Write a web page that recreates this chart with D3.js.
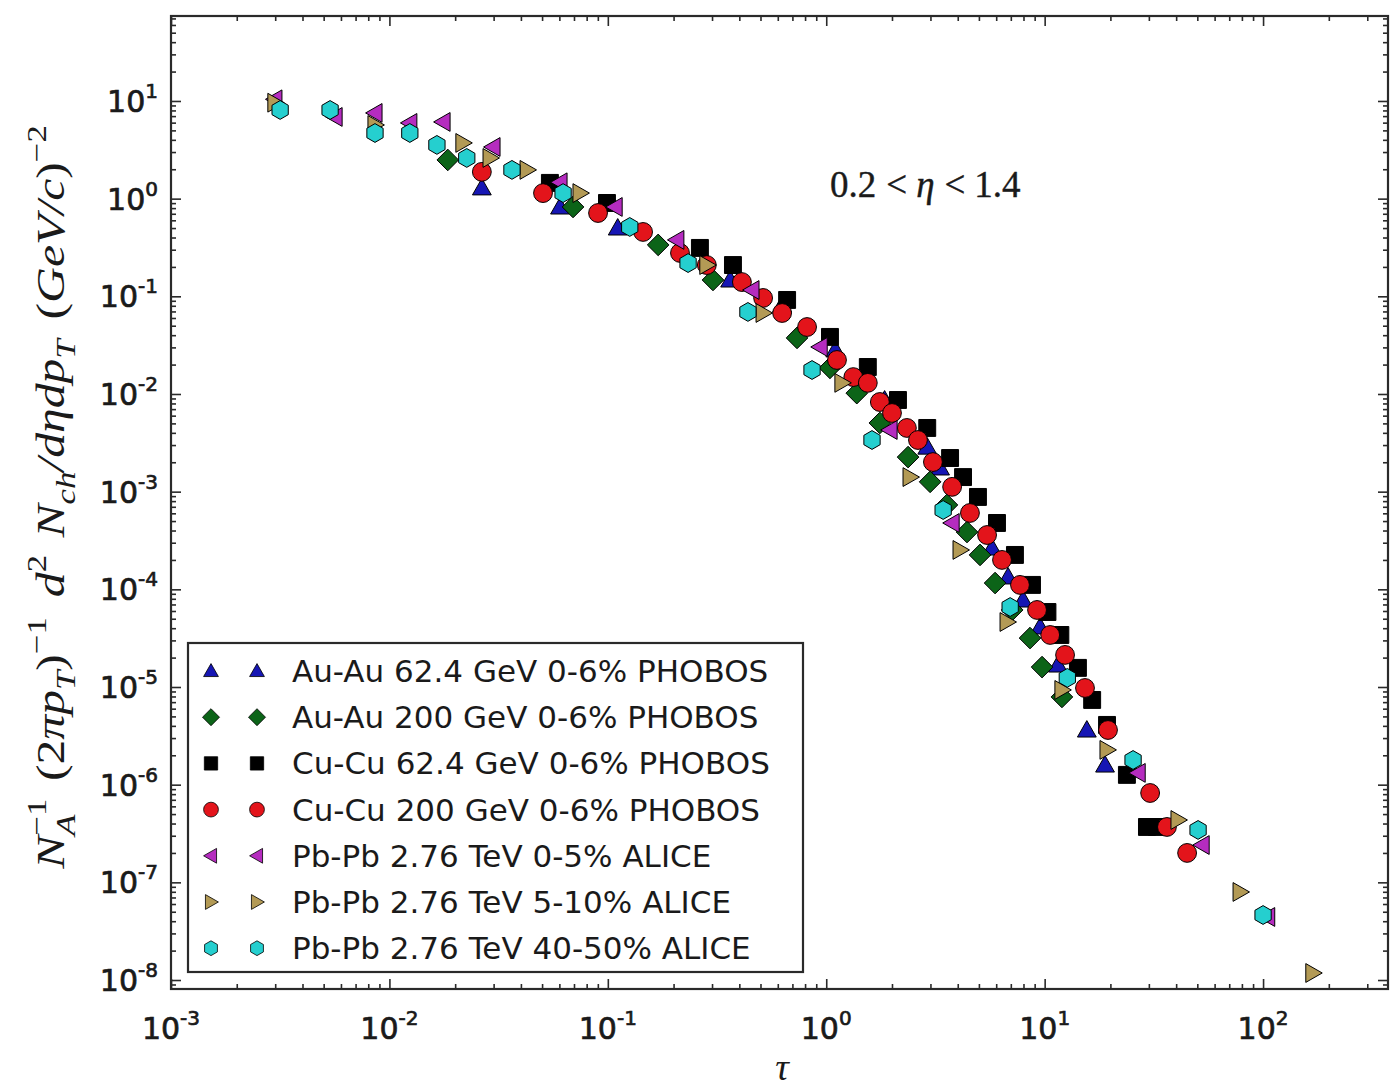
<!DOCTYPE html>
<html>
<head>
<meta charset="utf-8">
<script src="https://cdnjs.cloudflare.com/ajax/libs/d3/7.8.5/d3.min.js"></script>
<style>
  html, body { margin: 0; padding: 0; background: #ffffff; }
  svg { display: block; }
</style>
</head>
<body>
<svg id="chart" width="1391" height="1089"></svg>
<script>
// ---- Data: scaled charged-hadron spectra vs. scaling variable tau ----
const seriesLabels = [
  "Au-Au 62.4 GeV 0-6% PHOBOS",
  "Au-Au 200 GeV 0-6% PHOBOS",
  "Cu-Cu 62.4 GeV 0-6% PHOBOS",
  "Cu-Cu 200 GeV 0-6% PHOBOS",
  "Pb-Pb 2.76 TeV 0-5% ALICE",
  "Pb-Pb 2.76 TeV 5-10% ALICE",
  "Pb-Pb 2.76 TeV 40-50% ALICE"
];

const auAu62Tau   = [0.0265, 0.0604, 0.111, 0.363, 0.628, 1.10, 1.85, 2.90, 3.32, 5.74, 6.80, 7.96, 9.53, 11.5, 15.6, 18.9];
const auAu62Yield = [1.29, 0.822, 0.501, 0.147, 0.0815, 0.0283, 0.00868, 0.00286, 0.00175, 2.65e-4, 1.34e-4, 7.78e-5, 4.12e-5, 1.68e-5, 3.63e-6, 1.59e-6];

const auAu200Tau   = [0.0185, 0.0693, 0.170, 0.303, 0.735, 1.04, 1.38, 1.76, 2.37, 2.99, 3.57, 4.41, 5.06, 5.93, 7.10, 8.57, 9.73, 12.0];
const auAu200Yield = [2.49, 0.822, 0.336, 0.147, 0.0375, 0.0185, 0.0102, 0.00505, 0.00226, 0.00126, 7.31e-4, 3.86e-4, 2.25e-4, 1.16e-4, 6.15e-5, 3.17e-5, 1.60e-5, 7.91e-6];

const cuCu62Tau   = [0.0543, 0.0991, 0.264, 0.374, 0.662, 1.04, 1.55, 2.13, 2.90, 3.69, 4.23, 4.95, 6.05, 7.31, 8.75, 10.3, 11.8, 14.2, 16.5, 19.3, 23.8, 29.4, 32.7];
const cuCu62Yield = [1.45, 0.903, 0.313, 0.209, 0.0918, 0.0384, 0.0189, 0.00868, 0.00449, 0.00221, 0.00141, 8.83e-4, 4.78e-4, 2.25e-4, 1.11e-4, 5.86e-5, 3.41e-5, 1.57e-5, 7.37e-6, 4.09e-6, 1.26e-6, 3.69e-7, 3.69e-7];

const cuCu200Tau   = [0.0265, 0.0505, 0.0902, 0.145, 0.214, 0.284, 0.411, 0.514, 0.628, 0.817, 1.12, 1.33, 1.55, 1.76, 2.00, 2.34, 2.63, 3.08, 3.77, 4.55, 5.45, 6.38, 7.71, 9.23, 10.6, 12.4, 15.3, 19.5, 30.4, 36.3, 44.9];
const cuCu200Yield = [1.88, 1.14, 0.713, 0.456, 0.278, 0.209, 0.140, 0.0962, 0.0675, 0.0485, 0.0223, 0.0149, 0.0130, 0.00828, 0.00639, 0.00449, 0.00338, 0.00201, 0.00112, 6.05e-4, 3.60e-4, 2.00e-4, 1.11e-4, 6.15e-5, 3.41e-5, 2.13e-5, 9.77e-6, 3.63e-6, 8.22e-7, 3.69e-7, 2.00e-7];

const pbPb05Tau   = [0.00299, 0.00564, 0.00859, 0.0124, 0.0176, 0.0298, 0.0604, 0.108, 0.207, 0.457, 0.938, 1.96, 3.77, 26.8, 52.6, 105];
const pbPb05Yield = [10.4, 6.86, 7.54, 5.96, 6.10, 3.38, 1.47, 0.822, 0.378, 0.116, 0.0303, 0.00428, 4.78e-4, 1.32e-6, 2.41e-7, 4.42e-8];

const pbPb510Tau   = [0.00299, 0.00859, 0.0217, 0.0289, 0.0427, 0.0746, 0.284, 0.514, 1.18, 2.42, 4.10, 6.73, 12.0, 19.3, 40.8, 78.5, 169];
const pbPb510Yield = [9.6, 5.68, 3.72, 2.61, 1.97, 1.14, 0.209, 0.0675, 0.0130, 0.00141, 2.53e-4, 4.63e-5, 9.33e-6, 2.27e-6, 4.35e-7, 7.97e-8, 1.18e-8];

const pbPb4050Tau   = [0.00316, 0.00535, 0.00859, 0.0124, 0.0165, 0.0226, 0.0364, 0.0624, 0.126, 0.233, 0.438, 0.861, 1.62, 3.43, 6.95, 12.7, 25.4, 50.4, 100];
const pbPb4050Yield = [8.09, 8.09, 4.70, 4.70, 3.55, 2.61, 1.97, 1.14, 0.513, 0.219, 0.0692, 0.0176, 0.00338, 6.49e-4, 6.59e-5, 1.24e-5, 1.79e-6, 3.44e-7, 4.63e-8];

const xMajorTicks = [1e-3, 1e-2, 1e-1, 1e0, 1e1, 1e2];
const xTickExponents = ["-3", "-2", "-1", "0", "1", "2"];
const yMajorTicks = [1e-8, 1e-7, 1e-6, 1e-5, 1e-4, 1e-3, 1e-2, 1e-1, 1e0, 1e1];
const yTickExponents = ["-8", "-7", "-6", "-5", "-4", "-3", "-2", "-1", "0", "1"];

// ---- Styling ----
const seriesTau   = [auAu62Tau, auAu200Tau, cuCu62Tau, cuCu200Tau, pbPb05Tau, pbPb510Tau, pbPb4050Tau];
const seriesYield = [auAu62Yield, auAu200Yield, cuCu62Yield, cuCu200Yield, pbPb05Yield, pbPb510Yield, pbPb4050Yield];
const seriesColor = ["#1616b4", "#0c6418", "#000000", "#e3141b", "#b52cbf", "#b39a55", "#25cfcf"];
const seriesShape = ["triUp", "diamond", "square", "circle", "triLeft", "triRight", "hexagon"];

const markerPath = {
  triUp:    r => `M0,${-r}L${r},${0.75 * r}L${-r},${0.75 * r}Z`,
  triLeft:  r => `M${-r},0L${0.75 * r},${-r}L${0.75 * r},${r}Z`,
  triRight: r => `M${r},0L${-0.75 * r},${-r}L${-0.75 * r},${r}Z`,
  diamond:  r => `M0,${-r * 1.15}L${r * 1.15},0L0,${r * 1.15}L${-r * 1.15},0Z`,
  square:   r => `M${-r * 0.9},${-r * 0.9}H${r * 0.9}V${r * 0.9}H${-r * 0.9}Z`,
  circle:   r => d3.arc()({innerRadius: 0, outerRadius: r, startAngle: 0, endAngle: 2 * Math.PI}),
  hexagon:  r => {
    const pts = d3.range(6).map(k => {
      const a = Math.PI / 2 + k * Math.PI / 3;
      return [r * Math.cos(a), -r * Math.sin(a)];
    });
    return "M" + pts.map(p => p.join(",")).join("L") + "Z";
  }
};

const svg = d3.select("#chart");
const frame = {left: 171, right: 1388, top: 16, bottom: 989};

const x = d3.scaleLog()
  .domain([1e-3, Math.pow(10, 2.572)])
  .range([frame.left, frame.right]);
const y = d3.scaleLog()
  .domain([Math.pow(10, -8.092), Math.pow(10, 1.870)])
  .range([frame.bottom, frame.top]);

function minorTicks(scale, lo, hi) {
  const [d0, d1] = scale.domain();
  const out = [];
  for (let e = lo; e <= hi; e++) {
    for (let k = 2; k <= 9; k++) {
      const v = k * Math.pow(10, e);
      if (v >= d0 && v <= d1) out.push(v);
    }
  }
  return out;
}
const xMinor = minorTicks(x, -3, 2);
const yMinor = minorTicks(y, -9, 1);

// ---- Axes: inward ticks on all four sides ----
const axisColor = "#2a2a2a";
function drawAxis(axisFn, scale, pos, values, len) {
  const g = svg.append("g")
    .attr("transform", pos)
    .call(axisFn(scale).tickValues(values).tickSize(-len).tickSizeOuter(0).tickFormat(""));
  g.select(".domain").remove();
  g.selectAll(".tick line").attr("stroke", axisColor).attr("stroke-width", 1.6);
}
[[xMajorTicks, 10], [xMinor, 5]].forEach(([vals, len]) => {
  drawAxis(d3.axisBottom, x, `translate(0,${frame.bottom})`, vals, len);
  drawAxis(d3.axisTop, x, `translate(0,${frame.top})`, vals, len);
});
[[yMajorTicks, 10], [yMinor, 5]].forEach(([vals, len]) => {
  drawAxis(d3.axisLeft, y, `translate(${frame.left},0)`, vals, len);
  drawAxis(d3.axisRight, y, `translate(${frame.right},0)`, vals, len);
});

svg.append("rect")
  .attr("x", frame.left).attr("y", frame.top)
  .attr("width", frame.right - frame.left).attr("height", frame.bottom - frame.top)
  .attr("fill", "none").attr("stroke", axisColor).attr("stroke-width", 2.2);

// ---- Tick labels: 10^n ----
const tickFont = "'DejaVu Sans', sans-serif";
function powerLabel(sel, exps) {
  sel.attr("font-family", tickFont)
    .attr("font-size", 30)
    .attr("fill", "#1a1a1a")
    .attr("stroke", "#1a1a1a")
    .attr("stroke-width", 0.7)
    .each(function(d, i) {
      const t = d3.select(this);
      t.append("tspan").text("10");
      t.append("tspan").attr("dy", -14).attr("font-size", 20).text(exps[i]);
    });
}
svg.append("g").selectAll("text")
  .data(xMajorTicks)
  .join("text")
  .attr("x", d => x(d))
  .attr("y", 1039)
  .attr("text-anchor", "middle")
  .call(powerLabel, xTickExponents);

svg.append("g").selectAll("text")
  .data(yMajorTicks)
  .join("text")
  .attr("x", 158)
  .attr("y", d => y(d) + 11)
  .attr("text-anchor", "end")
  .call(powerLabel, yTickExponents);

// ---- Rich math-like text helper ----
function richText(textSel, parts, fs) {
  const small = fs * 0.7;
  const offs = {base: 0, sub: fs * 0.28, sup: -fs * 0.45};
  let cur = 0;
  parts.forEach(p => {
    const lvl = p.lvl || "base";
    const target = offs[lvl];
    const ts = textSel.append("tspan")
      .attr("font-size", lvl === "base" ? fs : small)
      .attr("font-style", p.it ? "italic" : "normal")
      .attr("dy", target - cur)
      .text(p.t);
    if (p.dx) ts.attr("dx", p.dx);
    cur = target;
  });
}

// Y axis title, stretched along its baseline to the axis-title length
const yTitleG = svg.append("g")
  .attr("transform", `translate(64,497) rotate(-90)`);
const yTitle = yTitleG.append("text")
  .attr("text-anchor", "middle")
  .attr("font-family", "'Liberation Serif', 'DejaVu Serif', serif")
  .attr("fill", "#1a1a1a");
const yTitleFs = 40;
richText(yTitle, [
  {t: "N", it: true},
  {t: "A", it: true, lvl: "sub"},
  {t: "−1", lvl: "sup", dx: -17},
  {t: " (2", dx: 4},
  {t: "πp", it: true},
  {t: "T", it: true, lvl: "sub"},
  {t: ")"},
  {t: "−1", lvl: "sup"},
  {t: " d", it: true, dx: 6},
  {t: "2", lvl: "sup"},
  {t: " N", it: true, dx: 4},
  {t: "ch", it: true, lvl: "sub"},
  {t: "/dηdp", it: true},
  {t: "T", it: true, lvl: "sub"},
  {t: " (", dx: 6},
  {t: "GeV/c", it: true},
  {t: ")"},
  {t: "−2", lvl: "sup"}
], yTitleFs);
const yTitleLen = yTitle.node().getBBox().width;
yTitle.attr("transform", `scale(${745 / yTitleLen},1)`);

// X axis title
svg.append("text")
  .attr("x", 782)
  .attr("y", 1080)
  .attr("text-anchor", "middle")
  .attr("font-family", "'Liberation Serif', 'DejaVu Serif', serif")
  .attr("font-style", "italic")
  .attr("font-size", 38)
  .attr("fill", "#1a1a1a")
  .text("τ");

// Pseudorapidity window annotation
const etaNote = svg.append("text")
  .attr("x", 830)
  .attr("y", 197)
  .attr("font-family", "'Liberation Serif', 'DejaVu Serif', serif")
  .attr("font-size", 37)
  .attr("fill", "#1a1a1a")
  .attr("stroke", "#1a1a1a")
  .attr("stroke-width", 0.4);
etaNote.append("tspan").text("0.2");
etaNote.append("tspan").attr("dx", 10).text("<");
etaNote.append("tspan").attr("dx", 9).attr("font-style", "italic").text("η");
etaNote.append("tspan").attr("dx", 10).text("<");
etaNote.append("tspan").attr("dx", 9).text("1.4");

// ---- Data points, drawn in series order ----
const markerR = 9.4;
seriesTau.forEach((taus, s) => {
  const pts = taus.map((t, i) => ({tau: t, val: seriesYield[s][i]}));
  svg.append("g")
    .selectAll("path")
    .data(pts)
    .join("path")
    .attr("transform", d => `translate(${x(d.tau)},${y(d.val)})`)
    .attr("d", markerPath[seriesShape[s]](markerR))
    .attr("fill", seriesColor[s])
    .attr("stroke", "#000")
    .attr("stroke-width", 1);
});

// ---- Legend ----
const legend = svg.append("g");
legend.append("rect")
  .attr("x", 188).attr("y", 643)
  .attr("width", 615).attr("height", 329)
  .attr("fill", "#ffffff")
  .attr("stroke", axisColor)
  .attr("stroke-width", 2.2);
const rowY = i => 671 + i * 46.2;
seriesLabels.forEach((label, s) => {
  [211, 257].forEach(mx => {
    legend.append("path")
      .attr("transform", `translate(${mx},${rowY(s)})`)
      .attr("d", markerPath[seriesShape[s]](7.4))
      .attr("fill", seriesColor[s])
      .attr("stroke", "#000")
      .attr("stroke-width", 0.8);
  });
  legend.append("text")
    .attr("x", 292)
    .attr("y", rowY(s) + 11)
    .attr("font-family", "'DejaVu Sans', sans-serif")
    .attr("font-size", 31)
    .attr("fill", "#1a1a1a")
    .text(label);
});
</script>
</body>
</html>
